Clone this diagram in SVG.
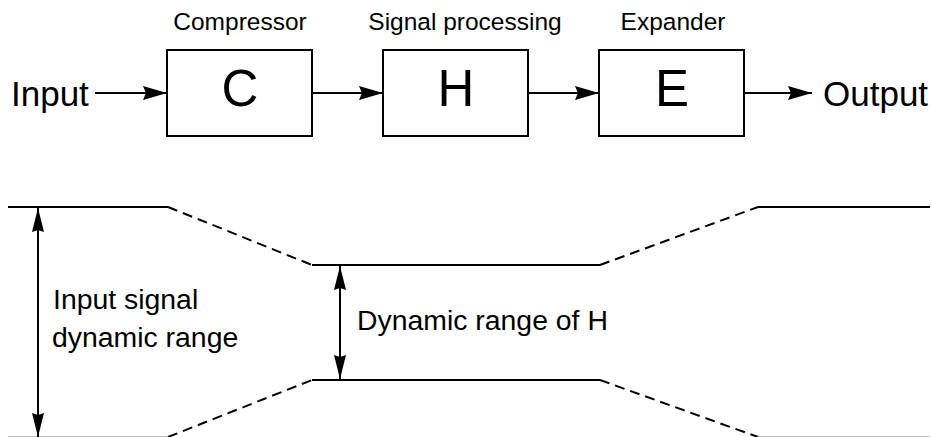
<svg xmlns="http://www.w3.org/2000/svg" width="932" height="437" viewBox="0 0 932 437">
  <style>
    .box { fill: #fff; stroke: #000; stroke-width: 2; }
    .wire { fill: none; stroke: #000; stroke-width: 2; }
    .dash { fill: none; stroke: #000; stroke-width: 2; stroke-dasharray: 10 6; }
    .t { font-family: "Liberation Sans", Arial, Helvetica, sans-serif; fill: #000; }
    .big { font-size: 51px; text-anchor: middle; }
    .io { font-size: 35px; }
    .lbl { font-size: 24.5px; text-anchor: middle; }
    .rng { font-size: 28.4px; }
  </style>
  <defs>
    <marker id="ah" viewBox="0 0 24 14" refX="24" refY="7" markerWidth="24" markerHeight="14" markerUnits="userSpaceOnUse" orient="auto">
      <path d="M0,0 L24,7 L0,14 L3,7 Z" fill="#000"/>
    </marker>
    <marker id="ahv" viewBox="0 0 24 12" refX="24" refY="6" markerWidth="24" markerHeight="12" markerUnits="userSpaceOnUse" orient="auto-start-reverse">
      <path d="M0,0 L24,6 L0,12 L2,6 Z" fill="#000"/>
    </marker>
  </defs>

  <!-- signal chain connectors -->
  <g id="connectors">
    <line class="wire" x1="95" y1="93" x2="167" y2="93" marker-end="url(#ah)"/>
    <line class="wire" x1="313" y1="93" x2="383" y2="93" marker-end="url(#ah)"/>
    <line class="wire" x1="528" y1="93" x2="599" y2="93" marker-end="url(#ah)"/>
    <line class="wire" x1="744" y1="93" x2="812" y2="93" marker-end="url(#ah)"/>
  </g>

  <g id="input">
    <text class="t io" x="11" y="106">Input</text>
  </g>

  <g id="compressor">
    <text class="t lbl" x="240" y="30">Compressor</text>
    <rect class="box" x="167" y="50" width="145" height="86"/>
    <text class="t big" x="240" y="106">C</text>
  </g>

  <g id="processing">
    <text class="t lbl" x="465" y="30">Signal processing</text>
    <rect class="box" x="383" y="50" width="145" height="86"/>
    <text class="t big" x="456" y="106">H</text>
  </g>

  <g id="expander">
    <text class="t lbl" x="673" y="30">Expander</text>
    <rect class="box" x="599" y="50" width="145" height="86"/>
    <text class="t big" x="672" y="106">E</text>
  </g>

  <g id="output">
    <text class="t io" x="823" y="106">Output</text>
  </g>

  <!-- dynamic range envelope -->
  <g id="envelope">
    <polyline class="wire" points="8,207 168,207"/>
    <polyline class="dash" points="168,207 312,265"/>
    <polyline class="wire" points="312,265 600,265"/>
    <polyline class="dash" points="600,265 758,207"/>
    <polyline class="wire" points="758,207 930,207"/>

    <polyline class="wire" points="8,437.8 168,437.8"/>
    <polyline class="dash" points="168,437 312,380"/>
    <polyline class="wire" points="312,380 600,380"/>
    <polyline class="dash" points="600,380 758,437"/>
    <polyline class="wire" points="758,437.8 930,437.8"/>
  </g>

  <g id="input-range">
    <line class="wire" x1="38" y1="208" x2="38" y2="437" marker-start="url(#ahv)" marker-end="url(#ahv)"/>
    <text class="t rng" x="53" y="309">Input signal</text>
    <text class="t rng" x="52" y="347">dynamic range</text>
  </g>

  <g id="h-range">
    <line class="wire" x1="340" y1="266" x2="340" y2="379" marker-start="url(#ahv)" marker-end="url(#ahv)"/>
    <text class="t rng" x="357" y="330">Dynamic range of H</text>
  </g>
</svg>
